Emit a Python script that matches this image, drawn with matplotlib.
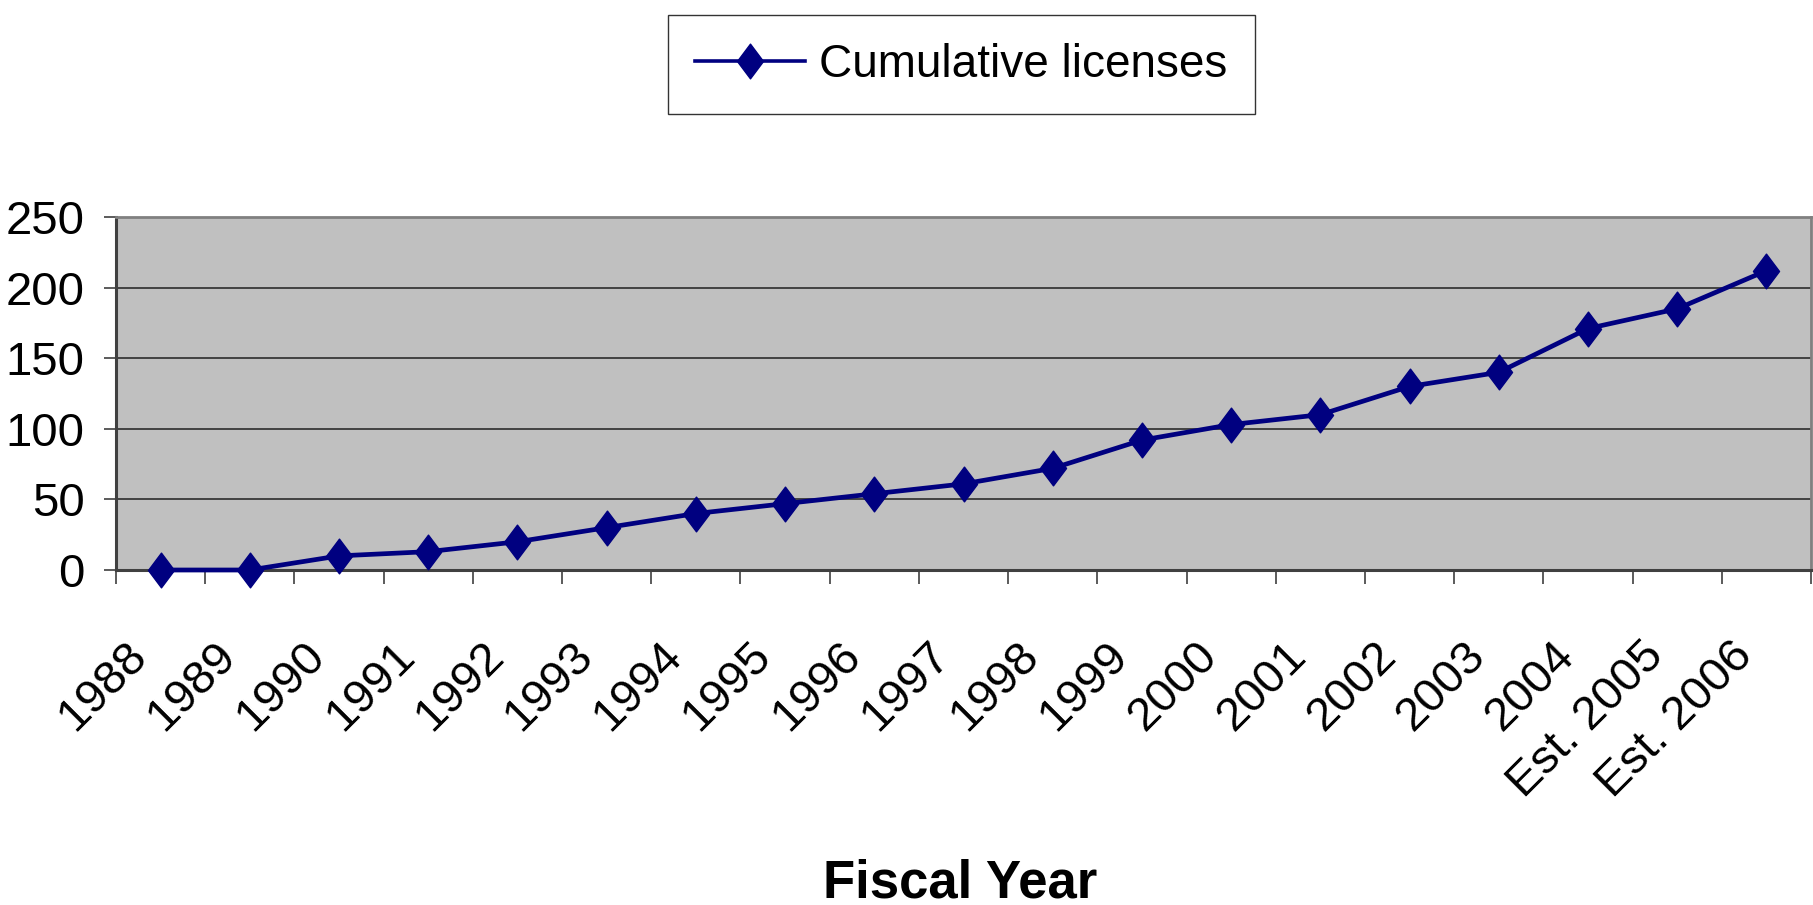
import matplotlib
matplotlib.use("Agg")
import matplotlib.pyplot as plt
from matplotlib.path import Path
from matplotlib.transforms import ScaledTranslation
import numpy as np

plt.rcParams['font.family'] = ['Liberation Sans Narrow', 'Liberation Sans', 'DejaVu Sans']

# Data
years = ["1988", "1989", "1990", "1991", "1992", "1993", "1994", "1995", "1996",
         "1997", "1998", "1999", "2000", "2001", "2002", "2003", "2004",
         "Est. 2005", "Est. 2006"]
cumulative_licenses = [0, 0, 10, 13, 20, 30, 40, 47, 54, 61, 72, 92, 103, 110,
                       130, 140, 171, 185, 212]
y_ticks = [0, 50, 100, 150, 200, 250]
series_name = "Cumulative licenses"
x_title = "Fiscal Year"

W, H, DPI = 1813, 905, 100
fig = plt.figure(figsize=(W / DPI, H / DPI), dpi=DPI, facecolor="white")

# plot area in pixel coordinates
left, right, top, bottom = 116, 1811, 217, 570
ax = fig.add_axes([left / W, 1 - bottom / H, (right - left) / W, (bottom - top) / H])
ax.set_facecolor("#C0C0C0")

x = np.arange(len(years))
diamond = Path([(0, 1), (0.75, 0), (0, -1), (-0.75, 0), (0, 1)],
               [Path.MOVETO, Path.LINETO, Path.LINETO, Path.LINETO, Path.CLOSEPOLY])
navy = "#000080"
ax.plot(x, cumulative_licenses, color=navy, lw=3.4, marker=diamond,
        markersize=25, markerfacecolor=navy, markeredgecolor=navy,
        label=series_name, zorder=3, clip_on=False)

ax.set_xlim(-0.5, len(years) - 0.5)
ax.set_ylim(0, 250)

# y axis
ax.set_yticks(y_ticks)
ax.set_yticklabels([str(v) for v in y_ticks], fontsize=34)
ax.tick_params(axis="y", direction="out", length=8.6, width=1.2, color="#404040", pad=14)
ax.yaxis.grid(True, color="#202020", lw=1.1)
ax.set_axisbelow(True)

# x axis: labels at category centres, tick marks on category boundaries
ax.set_xticks(x)
ax.set_xticklabels(years, fontsize=34, rotation=45, ha="right", va="top",
                   rotation_mode="anchor")
ax.tick_params(axis="x", which="major", length=0, pad=46)
ax.set_xticks(np.arange(-0.5, len(years)), minor=True)
ax.tick_params(axis="x", which="minor", direction="out", length=10, width=1.2, color="#404040")
shift = ScaledTranslation(-36 / DPI, 0, fig.dpi_scale_trans)
for lab in ax.get_xticklabels():
    lab.set_transform(lab.get_transform() + shift)

for side in ("top", "right"):
    ax.spines[side].set_color("#808080")
    ax.spines[side].set_linewidth(2.0)
for side in ("left", "bottom"):
    ax.spines[side].set_color("#404040")
    ax.spines[side].set_linewidth(2.2)

# axis title
fig.text(960 / W, 1 - 897 / H, x_title, ha="center", va="baseline",
         fontsize=38, fontweight="bold")

# legend box above the plot
leg = fig.legend(loc="center", bbox_to_anchor=((696 + 1226) / 2 / W, 1 - (11 + 119) / 2 / H),
                 fontsize=33, frameon=True, fancybox=False, shadow=False,
                 handlelength=2.4, handletextpad=0.3, borderpad=0.6, borderaxespad=0)
leg.get_frame().set_edgecolor("black")
leg.get_frame().set_linewidth(1.0)
for h in leg.legend_handles:
    h.set_linewidth(2.6)

fig.savefig("out.png", dpi=DPI, facecolor="white")
